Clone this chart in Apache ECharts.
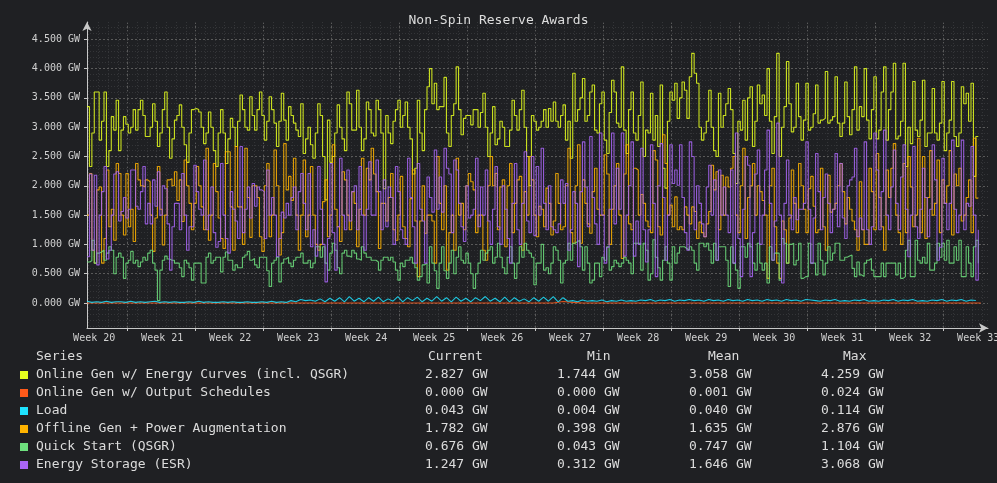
<!DOCTYPE html>
<html>
<head>
<meta charset="utf-8">
<script src="https://cdn.jsdelivr.net/npm/echarts@6/dist/echarts.min.js"></script>
<style>
html, body { margin: 0; padding: 0; background: #1f2023; }
#chart { width: 997px; height: 483px; }
</style>
</head>
<body>
<div id="chart"></div>
<script>
// 6-hour samples (4 per day), in GW
const onlineEnergyCurves = [
  3.35,2.33,2.9,3.6,3.6,2.78,3.1,3.6,2.33,2.6,3.18,2.95,3.46,2.6,2.95,3.18,3.05,2.9,3.0,3.3,
  2.95,3.3,3.46,3.2,2.84,2.84,3.0,3.4,3.1,2.67,2.9,3.3,3.6,3.0,2.47,2.8,3.12,3.2,3.38,3.0,
  2.7,2.4,2.9,3.3,3.32,3.3,3.26,3.0,2.72,2.9,3.26,3.0,2.6,2.33,2.9,3.3,2.9,2.38,2.8,3.15,
  3.0,2.67,3.1,3.55,3.3,3.0,2.95,3.52,3.2,2.95,3.3,3.6,3.2,2.78,3.1,3.52,3.3,3.07,2.67,3.1,
  3.58,3.12,2.78,3.35,3.2,3.07,2.95,2.84,3.4,2.55,2.8,3.0,2.7,2.47,
  2.9,3.4,3.2,2.5,1.76,3.12,2.4,2.5,2.9,3.38,3.0,2.8,2.6,3.6,3.4,2.95,2.95,3.63,3.0,2.6,
  2.8,3.43,3.3,2.9,2.85,3.46,3.3,2.9,1.95,3.2,2.9,2.72,3.1,3.3,3.46,3.0,3.2,3.43,3.0,2.8,
  2.2,2.3,3.46,2.9,2.6,3.3,3.69,4.0,3.4,3.75,3.3,3.35,3.35,3.85,2.9,2.67,3.2,3.4,4.03,3.3,
  2.87,3.15,3.2,3.2,3.04,3.3,3.3,3.0,3.25,3.58,3.0,2.5,2.9,3.35,2.7,2.8,3.1,3.0,2.67,2.67,
  2.95,3.46,3.2,2.95,3.3,3.63,3.0,2.5,2.0,3.2,3.1,2.95,
  3.0,3.1,3.3,3.0,3.32,3.1,3.43,3.1,3.0,3.2,3.38,2.78,3.1,2.47,3.92,3.1,3.3,3.5,3.83,3.1,
  3.2,3.6,3.72,2.95,2.9,3.4,3.6,2.78,2.55,3.25,3.8,3.6,3.07,3.0,4.03,2.95,2.55,3.3,3.6,2.9,
  2.78,3.2,3.77,2.5,2.95,2.9,3.58,2.78,3.2,2.67,3.72,2.3,1.96,3.1,3.6,3.46,3.75,3.15,3.5,3.77,
  3.63,3.15,3.86,4.26,3.92,3.75,3.0,2.78,2.9,3.1,3.63,3.0,2.6,2.5,3.58,3.0,3.2,3.4,3.66,3.3,
  2.55,2.04,3.1,2.95,3.46,2.78,3.5,3.69,2.67,3.1,3.72,3.4,3.55,3.2,
  4.0,3.1,2.55,3.18,4.26,2.5,3.0,3.35,4.12,3.4,2.92,3.0,3.75,3.18,2.78,3.12,3.75,2.95,3.0,3.23,
  3.72,3.07,3.12,3.15,3.95,3.07,3.12,3.18,3.86,3.07,2.84,3.07,3.77,3.18,2.87,3.3,4.03,2.95,3.35,3.18,
  4.0,3.12,2.8,3.3,3.86,2.8,2.95,3.6,4.03,2.78,3.3,3.6,4.09,2.8,2.85,3.1,4.09,2.33,3.0,2.72,
  3.78,2.95,2.84,3.12,3.8,2.67,2.9,2.9,3.66,2.9,2.78,3.07,3.78,2.6,2.9,3.12,3.78,2.84,2.67,2.9,
  3.69,3.4,3.58,3.1,3.75,2.16,2.84,2.83
];

const offlineGen = [
  1.5,2.21,0.9,0.68,1.93,1.98,0.68,1.1,2.27,1.3,1.6,1.07,2.38,2.21,1.5,1.16,2.21,1.3,1.6,1.05,
  2.38,2.1,2.0,1.98,2.1,2.07,1.5,0.88,1.45,2.33,1.6,0.99,1.5,2.1,2.12,2.0,2.24,1.75,2.1,1.39,
  2.44,2.0,1.7,1.25,1.7,2.33,2.0,1.64,1.25,2.64,1.07,1.5,2.38,1.9,1.45,1.1,0.93,2.58,2.58,1.64,
  0.9,2.67,1.64,1.64,1.0,2.64,1.8,1.12,2.0,2.0,1.8,1.13,0.88,2.0,2.38,1.13,1.5,2.61,2.0,0.82,
  1.2,2.72,1.93,2.16,1.75,2.47,1.5,0.9,1.5,2.44,1.13,1.5,2.33,1.5,
  1.0,0.9,1.0,1.73,2.1,1.13,1.5,2.7,1.6,1.3,1.05,2.24,2.1,1.5,1.25,1.9,1.7,0.96,1.6,2.47,
  1.5,2.3,2.1,2.64,2.2,1.9,0.93,1.7,1.7,1.4,1.8,2.21,1.25,1.07,1.5,2.16,1.3,1.1,0.96,1.78,
  2.27,1.4,0.45,1.4,2.0,1.19,1.5,1.5,1.4,0.68,2.5,1.7,1.25,2.0,0.56,1.2,1.5,0.9,2.47,1.5,
  1.7,1.25,2.0,2.21,2.07,1.93,1.2,1.5,1.5,0.9,0.73,2.0,2.5,2.0,2.21,1.25,1.98,2.1,0.96,2.0,
  2.38,1.2,1.7,2.1,2.16,0.9,1.9,1.5,2.5,2.1,1.5,1.13,
  1.65,1.6,1.3,1.96,1.7,1.16,1.4,2.21,1.7,1.25,1.3,2.0,2.64,1.2,1.02,2.0,2.7,1.02,2.1,1.7,
  1.35,1.19,1.9,2.3,1.6,1.5,1.5,2.53,2.2,1.0,1.6,2.0,2.38,1.5,0.76,2.2,2.7,1.35,1.25,2.3,
  2.27,1.5,1.85,1.7,1.4,1.3,1.2,2.6,2.44,1.3,1.16,2.87,2.38,1.5,1.67,1.3,1.81,1.25,1.3,1.25,
  1.64,1.5,1.35,1.64,1.56,1.1,1.38,1.2,1.13,1.35,1.56,2.35,1.93,2.24,1.25,2.18,1.5,2.15,1.98,2.3,
  2.5,1.5,1.2,2.0,2.64,1.1,1.8,2.0,2.38,1.5,2.0,1.9,1.75,1.5,
  0.42,2.0,2.3,1.3,0.68,0.42,1.4,1.25,0.68,1.45,2.27,1.7,1.2,2.38,2.0,1.6,1.2,1.95,2.16,1.65,
  1.2,1.25,2.3,1.3,0.9,2.18,1.55,1.6,1.7,2.0,2.38,1.9,1.35,1.8,1.6,1.4,1.25,0.9,2.07,1.25,
  1.0,1.0,2.3,1.9,1.25,2.55,1.8,1.3,0.9,2.27,1.8,2.3,2.72,1.5,1.2,1.0,2.38,1.2,2.5,1.98,
  1.3,1.5,2.81,1.2,2.5,1.1,1.8,2.6,1.5,1.7,2.44,1.2,2.1,1.7,2.0,2.6,1.16,2.2,2.0,2.3,
  1.4,1.5,1.8,2.1,1.2,2.81,1.79,1.78
];

const energyStorage = [
  0.79,2.2,0.9,2.18,0.65,1.5,1.9,2.33,0.75,0.9,1.5,2.2,2.24,1.4,1.56,1.8,1.45,1.6,2.27,2.27,
  1.65,1.6,1.9,2.33,1.35,1.7,1.35,2.1,1.65,2.24,1.5,2.0,1.95,1.35,0.56,1.3,1.7,1.7,1.25,2.21,
  1.5,0.9,1.3,1.3,2.35,1.9,1.6,1.5,2.44,1.25,1.5,1.98,1.2,0.95,1.05,2.38,1.5,1.1,0.85,1.9,
  1.6,1.4,1.1,2.67,1.2,1.6,1.98,1.45,2.04,1.65,1.98,1.93,1.9,1.1,2.27,1.5,1.8,1.5,0.79,1.1,
  1.55,1.45,1.7,1.5,1.8,1.98,1.25,1.9,2.21,1.7,1.25,2.21,0.96,1.25,
  0.8,2.33,1.6,1.0,0.36,1.1,2.38,1.2,0.56,1.3,2.47,1.5,1.25,2.27,1.4,1.9,2.0,1.25,2.33,1.5,
  0.9,1.6,2.41,1.5,1.5,2.44,1.9,1.25,2.1,1.3,1.98,1.8,1.0,2.33,1.9,1.25,1.1,1.0,2.47,1.8,
  1.3,0.68,2.38,1.6,1.4,0.68,2.15,1.8,1.55,2.61,1.6,2.15,1.55,2.64,2.3,2.2,1.2,2.44,2.27,1.7,
  1.3,1.05,2.0,1.45,1.5,1.6,2.47,1.3,1.98,1.5,2.27,1.4,1.0,1.6,2.33,1.3,1.0,2.0,1.6,1.1,
  0.68,1.7,2.38,1.25,1.0,1.7,2.58,1.4,1.2,2.5,1.15,2.33,
  1.5,2.64,1.7,1.25,2.0,1.3,1.25,1.2,1.35,2.1,1.7,2.04,0.9,1.25,1.9,1.7,0.62,1.9,2.75,1.98,
  1.3,2.84,1.8,1.35,1.0,2.9,1.5,0.68,0.95,1.6,2.9,1.35,2.3,1.6,2.9,0.8,1.5,2.0,2.75,0.8,
  1.4,1.0,2.64,1.25,0.7,1.25,2.7,1.7,0.45,2.0,2.72,1.8,0.73,1.5,2.7,2.04,2.27,2.01,2.7,1.8,
  1.2,0.9,2.75,2.5,1.25,2.0,1.7,1.35,1.13,1.98,2.35,1.5,2.1,0.73,2.27,1.5,1.98,1.5,1.2,2.27,
  0.68,2.9,1.1,0.45,1.6,2.5,2.35,0.45,1.2,2.2,2.61,1.0,1.5,2.27,
  2.95,1.7,0.73,1.4,3.07,1.5,0.34,1.7,2.44,1.5,1.25,1.8,1.42,1.6,1.6,1.7,2.75,1.6,0.68,1.45,
  2.55,1.9,1.25,1.8,2.2,1.7,1.2,1.6,2.55,1.3,2.38,1.45,1.1,2.0,2.1,2.15,2.64,1.13,1.45,1.25,
  2.75,1.25,1.0,1.3,2.9,2.27,1.25,1.9,2.95,1.5,1.25,1.98,2.61,1.7,1.25,2.15,2.7,1.6,0.79,1.5,
  2.67,1.3,1.1,1.6,2.3,1.8,1.13,1.6,2.7,2.1,0.73,0.95,2.47,1.7,1.25,1.7,2.78,1.6,1.2,1.5,
  2.78,1.25,1.7,1.65,2.67,1.5,0.39,1.25
];

const quickStart = [
  0.7,0.72,1.07,0.68,0.85,0.87,0.9,0.73,0.85,0.96,0.9,0.5,0.78,0.85,0.78,0.42,0.68,0.73,0.88,0.68,
  0.73,0.62,0.7,0.78,0.73,0.85,0.9,0.68,0.56,0.043,0.56,0.73,0.8,0.75,0.73,0.73,0.68,0.68,0.6,0.45,
  0.73,0.68,0.6,0.39,0.68,0.68,0.68,0.34,0.34,0.78,0.85,0.68,0.73,0.78,0.78,0.53,0.78,0.87,0.73,0.73,
  0.56,0.65,0.6,0.6,0.78,0.82,0.88,0.73,0.76,0.65,0.6,0.78,0.78,0.78,0.55,0.28,0.68,0.73,0.78,0.36,
  0.68,0.75,0.78,0.68,0.62,0.73,0.78,0.78,0.85,0.68,0.68,0.73,0.6,0.68,
  0.96,0.96,0.78,0.96,0.68,0.56,0.85,1.02,0.9,0.6,0.5,0.85,0.9,0.8,0.78,0.9,0.85,0.75,0.73,0.96,
  0.85,0.78,0.78,0.73,0.73,0.7,0.56,0.73,0.78,0.78,0.73,0.78,0.7,0.56,0.39,0.68,0.62,0.73,0.73,0.78,
  0.68,0.6,0.39,0.45,0.65,0.68,0.34,0.96,0.68,0.55,0.25,0.68,0.96,0.55,0.42,0.68,0.9,0.5,0.78,0.96,
  0.73,0.68,0.85,0.68,0.5,0.25,0.5,0.68,0.9,0.73,0.85,0.9,0.96,0.68,0.78,1.02,0.78,0.6,0.5,0.78,
  0.96,0.68,0.42,0.68,0.96,0.78,1.02,0.9,0.85,0.78,0.31,0.68,
  0.68,1.0,0.56,0.6,0.5,0.68,0.96,0.9,0.73,0.34,0.68,0.73,1.02,0.73,1.02,1.05,1.07,0.96,0.56,0.96,
  0.68,0.34,0.39,0.68,0.68,0.45,0.78,0.73,0.96,0.56,0.62,0.73,0.68,0.62,0.68,0.78,0.73,0.68,0.5,1.02,
  1.02,1.02,0.56,1.02,0.9,0.39,0.5,1.08,0.78,0.6,0.39,0.73,0.96,0.68,0.39,0.96,0.68,0.85,0.96,0.96,
  0.93,0.9,0.96,0.9,0.68,0.56,1.02,1.02,0.96,1.02,0.9,0.68,1.02,0.73,0.96,0.96,0.96,0.73,0.28,0.96,
  0.68,0.56,0.25,0.96,0.96,0.78,1.02,0.96,0.68,0.56,1.02,0.68,0.56,0.68,
  0.34,0.96,0.73,0.85,0.85,0.39,1.1,1.02,0.68,1.0,1.02,0.65,0.73,1.02,0.42,0.45,0.45,1.02,0.68,0.68,
  0.48,1.02,0.73,0.48,0.68,0.96,0.73,0.85,1.02,1.02,0.73,0.73,0.78,0.8,0.82,0.59,0.45,0.7,0.48,0.45,
  0.68,0.73,0.76,0.56,0.45,0.45,0.45,0.68,0.45,0.68,0.68,0.68,0.68,0.48,0.68,0.42,0.45,0.9,1.07,0.45,
  0.45,1.07,0.73,0.68,0.78,0.68,1.02,0.56,0.56,0.68,1.02,0.78,1.02,0.73,1.07,0.68,0.68,0.96,0.73,1.07,
  0.45,0.45,0.96,0.68,0.45,0.96,1.07,0.676
];

// 12-hour samples
const loadValues = [
  0.03,0.01,0.02,0.01,0.03,0.01,0.02,0.02,0.01,0.03,0.01,0.02,0.01,0.02,0.03,0.01,0.02,0.01,0.02,0.01,
  0.01,0.02,0.01,0.03,0.01,0.02,0.01,0.01,0.02,0.01,0.02,0.01,0.01,0.02,0.01,0.01,0.02,0.01,0.03,0.01,
  0.02,0.01,
  0.04,0.02,0.06,0.04,0.05,0.03,
  0.07,0.02,0.08,0.03,0.09,0.02,0.11,0.03,0.08,0.02,0.09,0.03,0.1,0.02,0.07,0.03,0.11,0.02,0.09,0.04,
  0.1,0.02,0.08,0.03,0.11,0.03,0.09,0.02,0.1,0.03,0.08,0.02,0.09,0.04,0.11,0.03,0.08,0.02,0.1,0.02,
  0.09,0.03,0.07,0.02,0.09,0.03,
  0.1,0.03,0.11,0.02,0.09,0.03,0.04,0.02,0.05,0.03,0.04,0.03,0.05,0.02,0.04,0.03,0.05,0.03,0.04,0.03,
  0.05,0.04,0.06,0.03,0.05,0.04,0.06,0.03,0.05,0.04,0.06,0.04,0.05,0.03,0.06,0.04,0.05,0.03,0.06,0.04,
  0.05,0.03,0.06,0.04,0.05,0.03,0.06,0.04,
  0.05,0.03,0.06,0.04,0.05,0.03,0.06,0.05,0.04,0.03,0.05,0.04,0.06,0.03,0.04,0.03,0.05,0.04,0.06,0.03,
  0.04,0.03,0.05,0.04,0.06,0.03,0.05,0.04,0.06,0.03,0.04,0.03,0.05,0.04,0.06,0.03,0.05,0.04,0.06,0.03,
  0.05,0.043
];

// daily samples
const outputSchedules = [
  0,0,0,0,0,0,0,0,0,0,0,0,0,0,0,0,0,0,0,0,0,0,0,0,0,0,0,0,0,0,
  0,0,0,0,0,0,0,0,0,0,0,0,0,0,0,0,0,0,0.024,0.01,0,0,0,0,0,0,0,0,0,0,
  0,0,0,0,0,0,0,0,0,0,0,0,0,0,0,0,0,0,0,0,0,0,0,0,0,0,0,0,0,0,
  0,0,0
];

const seriesNames = [
  'Online Gen w/ Energy Curves (incl. QSGR)',
  'Online Gen w/ Output Schedules',
  'Load',
  'Offline Gen + Power Augmentation',
  'Quick Start (QSGR)',
  'Energy Storage (ESR)'
];
const seriesColors = ['#e6ff1f', '#ff5a1a', '#1ee3ff', '#ffb300', '#6ee07e', '#a865f5'];
const currentVals = [2.827, 0.000, 0.043, 1.782, 0.676, 1.247];
const minVals = [1.744, 0.000, 0.004, 0.398, 0.043, 0.312];
const meanVals = [3.058, 0.001, 0.040, 1.635, 0.747, 1.646];
const maxVals = [4.259, 0.024, 0.114, 2.876, 1.104, 3.068];

const weekLabels = ['Week 20','Week 21','Week 22','Week 23','Week 24','Week 25','Week 26',
  'Week 27','Week 28','Week 29','Week 30','Week 31','Week 32','Week 33'];
const yTicks = [0, 0.5, 1, 1.5, 2, 2.5, 3, 3.5, 4, 4.5];

// axis layout (days from start of data)
const X_MAX = 92.75;
const FIRST_LABEL = 0.74;
const FIRST_MAJOR = 4.17;
const Y_MIN = -0.427, Y_MAX = 4.795;

const labelDays = weekLabels.map((w, k) => FIRST_LABEL + 7 * k);
const majorDays = [];
for (let d = FIRST_MAJOR; d < X_MAX; d += 7) majorDays.push(d);
const minorDays = [];
for (let d = FIRST_MAJOR - 4; d < X_MAX; d += 1) minorDays.push(d);
const minorY = [];
for (let k = -4; k <= 47; k++) { if (k % 5 !== 0) minorY.push(k / 10); }

const MONO = '"DejaVu Sans Mono", monospace';

function pairs(values, step) {
  return values.map((v, i) => [i * step, v]);
}

const seriesData = [
  pairs(onlineEnergyCurves, 0.25),
  pairs(outputSchedules, 1),
  pairs(loadValues, 0.5),
  pairs(offlineGen, 0.25),
  pairs(quickStart, 0.25),
  pairs(energyStorage, 0.25)
];

const chart = echarts.init(document.getElementById('chart'));

// legend table
const graphics = [];
const headerY = 357, rowH = 18;
const cols = [
  { title: 'Current', hx: 428, vx: 425, vals: currentVals },
  { title: 'Min', hx: 587, vx: 557, vals: minVals },
  { title: 'Mean', hx: 708, vx: 689, vals: meanVals },
  { title: 'Max', hx: 843, vx: 821, vals: maxVals }
];
const textStyle = (text) => ({ text: text, font: '13px ' + MONO, fill: '#dcdcdc', verticalAlign: 'middle', textVerticalAlign: 'middle' });
graphics.push({ type: 'text', x: 36, y: headerY, style: textStyle('Series') });
cols.forEach(c => graphics.push({ type: 'text', x: c.hx, y: headerY, style: textStyle(c.title) }));
seriesNames.forEach((name, i) => {
  const y = headerY + rowH * (i + 1);
  graphics.push({ type: 'rect', shape: { x: 20, y: y - 4, width: 8, height: 8 }, style: { fill: seriesColors[i] } });
  graphics.push({ type: 'text', x: 36, y: y, style: textStyle(name) });
  cols.forEach(c => graphics.push({ type: 'text', x: c.vx, y: y, style: textStyle(c.vals[i].toFixed(3) + ' GW') }));
});

const option = {
  backgroundColor: '#1f2023',
  animation: false,
  title: {
    text: 'Non-Spin Reserve Awards',
    left: 'center',
    top: 9,
    textStyle: { fontFamily: MONO, fontSize: 13, fontWeight: 'normal', color: '#dedede' }
  },
  grid: { left: 87, right: 9, top: 22, bottom: 155, outerBoundsMode: 'none' },
  xAxis: [
    {
      type: 'value', min: 0, max: X_MAX,
      axisLine: { show: true, onZero: false, symbol: ['none', 'arrow'], symbolSize: [7, 9], lineStyle: { color: '#c8c8c8', width: 1 } },
      axisTick: { show: true, customValues: majorDays, length: 3, lineStyle: { color: '#c8c8c8' } },
      axisLabel: {
        customValues: labelDays, margin: 5, color: '#d0d0d0', fontFamily: MONO, fontSize: 10,
        formatter: v => weekLabels[Math.round((v - FIRST_LABEL) / 7)]
      },
      splitLine: { show: true, lineStyle: { color: '#5a5a5a', type: [2, 2], width: 1 } }
    },
    {
      type: 'value', min: 0, max: X_MAX, position: 'bottom',
      axisLine: { show: false, onZero: false }, axisLabel: { show: false },
      axisTick: { show: false, customValues: minorDays },
      splitLine: { show: true, lineStyle: { color: '#343538', type: [1, 2], width: 1 } }
    }
  ],
  yAxis: [
    {
      type: 'value', min: Y_MIN, max: Y_MAX,
      axisLine: { show: true, onZero: false, symbol: ['none', 'arrow'], symbolSize: [7, 9], lineStyle: { color: '#c8c8c8', width: 1 } },
      axisTick: { show: true, customValues: yTicks, length: 3, lineStyle: { color: '#c8c8c8' } },
      axisLabel: {
        customValues: yTicks, margin: 7, color: '#d0d0d0', fontFamily: MONO, fontSize: 10,
        formatter: v => v.toFixed(3) + ' GW'
      },
      splitLine: { show: true, lineStyle: { color: '#5a5a5a', type: [2, 2], width: 1 } }
    },
    {
      type: 'value', min: Y_MIN, max: Y_MAX, position: 'left',
      axisLine: { show: false, onZero: false }, axisLabel: { show: false },
      axisTick: { show: false, customValues: minorY },
      splitLine: { show: true, lineStyle: { color: '#343538', type: [1, 2], width: 1 } }
    }
  ],
  series: seriesNames.map((name, i) => ({
    name: name,
    type: 'line',
    xAxisIndex: 0,
    yAxisIndex: 0,
    data: seriesData[i],
    step: i === 2 ? false : 'end',
    showSymbol: false,
    symbol: 'none',
    silent: true,
    lineStyle: { width: 1.1, color: seriesColors[i], opacity: 0.85 },
    z: 2 + i
  })),
  graphic: graphics
};

chart.setOption(option);
</script>
</body>
</html>
